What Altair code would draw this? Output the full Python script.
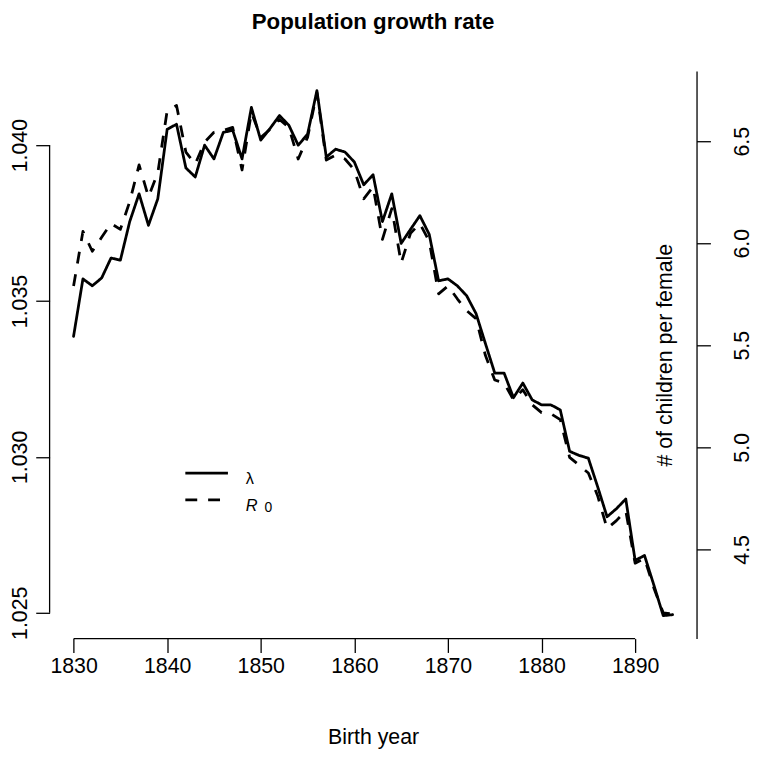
import altair as alt
import pandas as pd

# ---------------- data ----------------
years = list(range(1830, 1895))

lambda_vals = [
    1.03387, 1.03571, 1.03549, 1.03574, 1.03638, 1.03631, 1.03755, 1.03844,
    1.03743, 1.03828, 1.04051, 1.04067, 1.03927, 1.03898, 1.04000, 1.03956,
    1.04041, 1.04048, 1.03956, 1.04121, 1.04016, 1.04054, 1.04095, 1.04064,
    1.04000, 1.04035, 1.04175, 1.03962, 1.03987, 1.03978, 1.03946, 1.03873,
    1.03905, 1.03755, 1.03844, 1.03685, 1.03730, 1.03774, 1.03714, 1.03565,
    1.03571, 1.03549, 1.03517, 1.03460, 1.03364, 1.03269, 1.03269, 1.03190,
    1.03237, 1.03183, 1.03167, 1.03167, 1.03151, 1.03018, 1.03005, 1.02996,
    1.02904, 1.02808, 1.02834, 1.02865, 1.02668, 1.02684, 1.02589, 1.02491,
    1.02494,
]

r0_vals = [
    5.791, 6.058, 5.961, 6.029, 6.097, 6.068, 6.204, 6.384,
    6.228, 6.345, 6.650, 6.675, 6.447, 6.388, 6.495, 6.544,
    6.553, 6.568, 6.359, 6.641, 6.519, 6.558, 6.607, 6.568,
    6.413, 6.519, 6.738, 6.408, 6.432, 6.413, 6.359, 6.218,
    6.277, 6.019, 6.170, 5.903, 6.049, 6.097, 6.010, 5.752,
    5.791, 5.728, 5.670, 5.631, 5.451, 5.330, 5.316, 5.233,
    5.282, 5.209, 5.170, 5.165, 5.136, 4.951, 4.913, 4.874,
    4.762, 4.602, 4.641, 4.689, 4.432, 4.456, 4.311, 4.189,
    4.184,
]

series_names = ["lambda", "R0"]
legend_main = ["λ", "R"]
legend_sub = ["", "0"]
x_ticks = [1830, 1840, 1850, 1860, 1870, 1880, 1890]
lambda_ticks = [1.025, 1.030, 1.035, 1.040]
r0_ticks = [4.5, 5.0, 5.5, 6.0, 6.5]

title_text = "Population growth rate"
x_title = "Birth year"
r_title = "# of children per female"

# ---------------- tables ----------------
df_l = pd.DataFrame({"year": years, "value": lambda_vals, "series": series_names[0]})
df_r = pd.DataFrame({"year": years, "value": r0_vals, "series": series_names[1]})
df_xline = pd.DataFrame({"x": [x_ticks[0]], "x2": [x_ticks[-1]]})
df_yline = pd.DataFrame({"y": [lambda_ticks[0]], "y2": [lambda_ticks[-1]]})
df_title = pd.DataFrame({"t": [title_text]})
df_leg = pd.DataFrame({"series": series_names, "main": legend_main, "sub": legend_sub})

# ---------------- layout / style ----------------
W, H = 653, 573
FONT = "Liberation Sans"
FS = 21.5
LW = 2.8
AXW = 1.3
TICK = 14

x_scale = alt.Scale(domain=[1827.44, 1896.56], nice=False, zero=False)
yl_scale = alt.Scale(domain=[1.024174, 1.042383], nice=False, zero=False)
yr_scale = alt.Scale(domain=[4.063, 6.8447], nice=False, zero=False)
dash_scale = alt.Scale(domain=series_names, range=[[1, 0], [12, 11]])
leg_scale = alt.Scale(type="point", domain=series_names, range=[406, 433], padding=0)

x_axis = alt.Axis(
    values=x_ticks, format="d", domain=False, grid=False,
    tickSize=TICK, tickWidth=AXW, tickColor="black",
    labelFont=FONT, labelFontSize=FS, labelColor="black", labelPadding=3.7,
    labelBaseline="top", labelAlign="center",
    title=x_title, titleFont=FONT, titleFontSize=FS, titleFontWeight="normal",
    titleColor="black", titleX=W / 2, titleY=100, titleBaseline="middle",
    titleAlign="center",
)

yl_axis = alt.Axis(
    orient="left", values=lambda_ticks, format=".3f", domain=False, grid=False,
    tickSize=TICK, tickWidth=AXW, tickColor="black",
    labelFont=FONT, labelFontSize=FS, labelColor="black", labelPadding=9,
    labelAngle=270, labelAlign="center", labelBaseline="alphabetic",
    title=None,
)

yr_axis = alt.Axis(
    orient="right", values=r0_ticks, format=".1f", domain=True, grid=False,
    domainColor="black", domainWidth=AXW,
    tickSize=TICK, tickWidth=AXW, tickColor="black",
    labelFont=FONT, labelFontSize=FS, labelColor="black", labelPadding=21,
    labelAngle=270, labelAlign="center", labelBaseline="top",
    title=r_title, titleFont=FONT, titleFontSize=FS, titleFontWeight="normal",
    titleColor="black", titleAngle=270, titleX=-31, titleY=H / 2,
    titleBaseline="middle", titleAlign="center",
)

dash_enc = alt.StrokeDash("series:N", scale=dash_scale, legend=None)

lam_line = alt.Chart(df_l).mark_line(
    color="black", strokeWidth=LW, strokeJoin="round", strokeCap="round"
).encode(
    x=alt.X("year:Q", scale=x_scale, axis=x_axis),
    y=alt.Y("value:Q", scale=yl_scale, axis=yl_axis),
    strokeDash=dash_enc,
)

r0_line = alt.Chart(df_r).mark_line(
    color="black", strokeWidth=LW, strokeJoin="round", strokeCap="butt"
).encode(
    x=alt.X("year:Q", scale=x_scale, axis=x_axis),
    y=alt.Y("value:Q", scale=yr_scale, axis=yr_axis),
    strokeDash=dash_enc,
)

x_line = alt.Chart(df_xline).mark_rule(color="black", strokeWidth=AXW).encode(
    x=alt.X("x:Q", scale=x_scale, axis=x_axis),
    x2="x2:Q",
    y=alt.value(H),
)

y_line = alt.Chart(df_yline).mark_rule(color="black", strokeWidth=AXW).encode(
    y=alt.Y("y:Q", scale=yl_scale, axis=None),
    y2="y2:Q",
    x=alt.value(0),
)

title_mark = alt.Chart(df_title).mark_text(
    font=FONT, fontSize=22.5, fontWeight="bold", color="black",
    align="center", baseline="alphabetic",
).encode(
    text="t:N",
    x=alt.value(W / 2),
    y=alt.value(-42),
)

# legend (inside the plot, as in the reference)
leg_keys = alt.Chart(df_leg).mark_rule(
    color="black", strokeWidth=LW, strokeCap="butt"
).encode(
    x=alt.value(137), x2=alt.value(180),
    y=alt.Y("series:N", scale=leg_scale, axis=None),
    strokeDash=dash_enc,
)

leg_main_up = alt.Chart(df_leg).transform_filter(
    alt.datum.series == series_names[0]
).mark_text(
    font=FONT, fontSize=16.5, color="black", align="left",
    baseline="alphabetic", dy=11,
).encode(
    text="main:N", x=alt.value(198),
    y=alt.Y("series:N", scale=leg_scale, axis=None),
)

leg_main_it = alt.Chart(df_leg).transform_filter(
    alt.datum.series == series_names[1]
).mark_text(
    font=FONT, fontSize=16.5, fontStyle="italic", color="black", align="left",
    baseline="alphabetic", dy=11,
).encode(
    text="main:N", x=alt.value(198),
    y=alt.Y("series:N", scale=leg_scale, axis=None),
)

leg_sub = alt.Chart(df_leg).transform_filter(
    alt.datum.sub != ""
).mark_text(
    font=FONT, fontSize=14, color="black", align="left",
    baseline="alphabetic", dy=12,
).encode(
    text="sub:N", x=alt.value(217),
    y=alt.Y("series:N", scale=leg_scale, axis=None),
)

chart = alt.layer(
    lam_line, r0_line, x_line, y_line, title_mark,
    leg_keys, leg_main_up, leg_main_it, leg_sub,
).resolve_scale(
    y="independent"
).properties(
    width=W, height=H,
    background="white",
    autosize=alt.AutoSizeParams(type="none"),
    padding={"left": 42, "top": 60, "right": 58, "bottom": 108},
).configure_view(strokeWidth=0)

chart.save("out.html", embed_options={"renderer": "svg", "actions": False})
